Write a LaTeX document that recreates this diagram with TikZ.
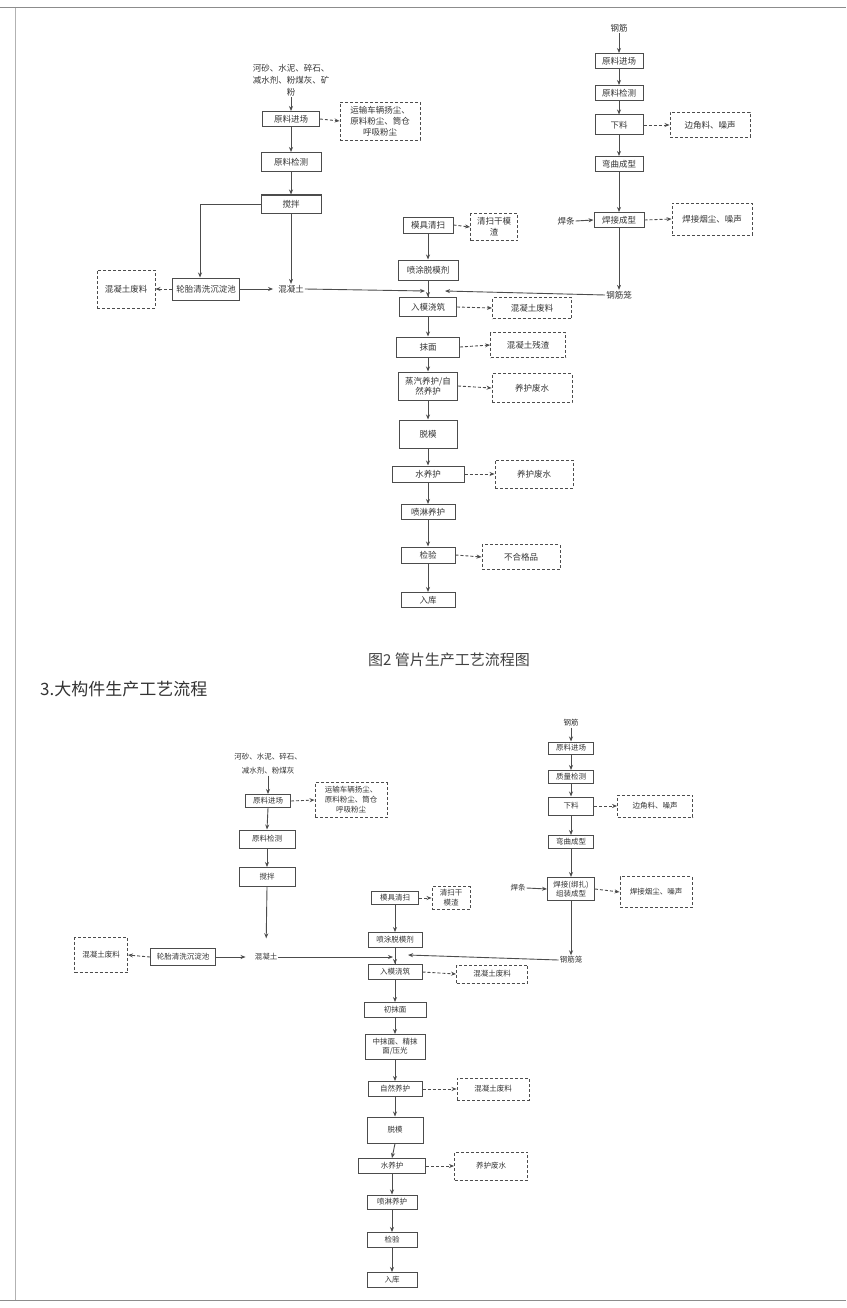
\documentclass[tikz,border=0pt]{standalone}
\usepackage{fontspec}
\setmainfont{Noto Sans CJK SC}
\usetikzlibrary{arrows.meta,calc}
\tikzset{
  ln/.style={draw=black!70, line width=0.9pt},
  arr/.style={ln, -{Stealth[length=5pt,width=4pt]}},
  darr/.style={ln, dashed, dash pattern=on 3pt off 2pt, -{Stealth[length=5pt,width=4pt]}},
  box/.style={draw=black!70, line width=1pt, inner sep=1pt, align=center, text=black!80, font=\fontsize{8.5pt}{10pt}\selectfont},
  sbox/.style={box, font=\fontsize{7.5pt}{9pt}\selectfont},
  dbox/.style={draw=black!70, line width=0.9pt, dashed, dash pattern=on 3pt off 2pt, inner sep=1pt, align=center, text=black!80, font=\fontsize{8.5pt}{11pt}\selectfont},
  sdbox/.style={dbox, font=\fontsize{7.5pt}{10pt}\selectfont},
  lbl/.style={inner sep=1pt, align=center, text=black!80, font=\fontsize{8.5pt}{12pt}\selectfont},
  slbl/.style={lbl, font=\fontsize{7.5pt}{14pt}\selectfont},
}
\begin{document}
\begin{tikzpicture}[x=1pt,y=-1pt]
\useasboundingbox (0,0) rectangle (846,1308);
% scan edges
\draw[black!45, line width=1pt] (0,8) -- (846,8);
\draw[black!30, line width=0.8pt] (15,8) -- (15,1300);
\draw[black!45, line width=1pt] (0,1300) -- (846,1300);

% ================= Figure 2 =================
\node[lbl] (in1) at (291,80) {河砂、水泥、碎石、\\减水剂、粉煤灰、矿\\粉};
\node[box, minimum width=57pt, minimum height=15pt] (a1) at (291,119) {原料进场};
\node[dbox, minimum width=80pt, minimum height=38pt] (a1d) at (380,121) {运输车辆扬尘、\\原料粉尘、筒仓\\呼吸粉尘};
\node[box, minimum width=60pt, minimum height=19pt] (a2) at (291,162) {原料检测};
\node[box, minimum width=60pt, minimum height=18pt] (a3) at (291,204) {搅拌};
\node[box, minimum width=67pt, minimum height=22pt] (cw) at (206,289) {轮胎清洗沉淀池};
\node[lbl] (c1) at (291,289) {混凝土};
\node[dbox, minimum width=58pt, minimum height=38pt] (w1) at (126,289) {混凝土废料};

\draw[arr] (in1.south) -- (a1.north);
\draw[darr] (a1.east) -- (a1d.west);
\draw[arr] (a1.south) -- (a2.north);
\draw[arr] (a2.south) -- (a3.north);
\draw[arr] (a3.west) -| ([xshift=-6pt]cw.north);
\draw[arr] (a3.south) -- (c1.north);
\draw[arr] (cw.east) -- ([xshift=-4pt]c1.west);
\draw[darr] (cw.west) -- (w1.east);

% middle chain
\node[box, minimum width=50pt, minimum height=16pt] (m1) at (428,225) {模具清扫};
\node[dbox, minimum width=47pt, minimum height=27pt] (m1d) at (494,227) {清扫干模\\渣};
\node[box, minimum width=60pt, minimum height=20pt] (m2) at (428,270) {喷涂脱模剂};
\coordinate (j1) at (428,291);
\node[box, minimum width=57pt, minimum height=19pt] (m3) at (428,307) {入模浇筑};
\node[dbox, minimum width=79pt, minimum height=21pt] (m3d) at (532,308) {混凝土废料};
\node[box, minimum width=63pt, minimum height=20pt] (m4) at (428,347) {抹面};
\node[dbox, minimum width=75pt, minimum height=25pt] (m4d) at (528,345) {混凝土残渣};
\node[box, minimum width=59pt, minimum height=28pt] (m5) at (428,386) {蒸汽养护/自\\然养护};
\node[dbox, minimum width=80pt, minimum height=29pt] (m5d) at (532,388) {养护废水};
\node[box, minimum width=58pt, minimum height=28pt] (m6) at (428,434) {脱模};
\node[box, minimum width=72pt, minimum height=16pt] (m7) at (428,474) {水养护};
\node[dbox, minimum width=78pt, minimum height=28pt] (m7d) at (534,474) {养护废水};
\node[box, minimum width=54pt, minimum height=15pt] (m8) at (428,512) {喷淋养护};
\node[box, minimum width=54pt, minimum height=16pt] (m9) at (428,555) {检验};
\node[dbox, minimum width=78pt, minimum height=25pt] (m9d) at (521,557) {不合格品};
\node[box, minimum width=54pt, minimum height=15pt] (m10) at (428,600) {入库};

\draw[darr] (m1.east) -- (m1d.west);
\draw[arr] (m1.south) -- (m2.north);
\draw[ln] (m2.south) -- (m3.north);
\draw[arr] (j1) -- (m3.north);
\draw[arr] (c1.east) -- ([xshift=-3pt]j1);
\draw[darr] (m3.east) -- (m3d.west);
\draw[arr] (m3.south) -- (m4.north);
\draw[darr] (m4.east) -- (m4d.west);
\draw[arr] (m4.south) -- (m5.north);
\draw[darr] (m5.east) -- (m5d.west);
\draw[arr] (m5.south) -- (m6.north);
\draw[arr] (m6.south) -- (m7.north);
\draw[darr] (m7.east) -- (m7d.west);
\draw[arr] (m7.south) -- (m8.north);
\draw[arr] (m8.south) -- (m9.north);
\draw[darr] (m9.east) -- (m9d.west);
\draw[arr] (m9.south) -- (m10.north);

% steel chain
\node[lbl] (s0) at (619,28) {钢筋};
\node[box, minimum width=48pt, minimum height=15pt] (s1) at (619,61) {原料进场};
\node[box, minimum width=48pt, minimum height=15pt] (s2) at (619,93) {原料检测};
\node[box, minimum width=48pt, minimum height=20pt] (s3) at (619,125) {下料};
\node[dbox, minimum width=80pt, minimum height=25pt] (s3d) at (710,125) {边角料、噪声};
\node[box, minimum width=48pt, minimum height=15pt] (s4) at (619,164) {弯曲成型};
\node[box, minimum width=50pt, minimum height=15pt] (s5) at (619,220) {焊接成型};
\node[lbl] (wr1) at (566,221) {焊条};
\node[dbox, minimum width=80pt, minimum height=32pt] (s5d) at (712,219) {焊接烟尘、噪声};
\node[lbl] (cg1) at (619,295) {钢筋笼};

\draw[arr] (s0.south) -- (s1.north);
\draw[arr] (s1.south) -- (s2.north);
\draw[arr] (s2.south) -- (s3.north);
\draw[darr] (s3.east) -- (s3d.west);
\draw[arr] (s3.south) -- (s4.north);
\draw[arr] (s4.south) -- (s5.north);
\draw[arr] (wr1.east) -- (s5.west);
\draw[darr] (s5.east) -- (s5d.west);
\draw[arr] (s5.south) -- (cg1.north);
\draw[arr] (cg1.west) -- ([xshift=17pt]j1);

% caption
\node[inner sep=0pt, text=black!75, font=\fontsize{15pt}{16pt}\selectfont] (cap) at (449,660) {图2\ 管片生产工艺流程图};
\node[inner sep=0pt, anchor=west, text=black!80, font=\fontsize{17pt}{18pt}\selectfont] (hd) at (40,689) {3.大构件生产工艺流程};

% ================= Figure 3 =================
\node[slbl] (in2) at (268,764) {河砂、水泥、碎石、\\减水剂、粉煤灰};
\node[sbox, minimum width=45pt, minimum height=13pt] (b1) at (268,801) {原料进场};
\node[sdbox, minimum width=72pt, minimum height=35pt] (b1d) at (351,800) {运输车辆扬尘、\\原料粉尘、筒仓\\呼吸粉尘};
\node[sbox, minimum width=56pt, minimum height=18pt] (b2) at (267,839) {原料检测};
\node[sbox, minimum width=56pt, minimum height=19pt] (b3) at (267,877) {搅拌};
\node[slbl] (c2) at (266,957) {混凝土};
\node[sbox, minimum width=65pt, minimum height=17pt] (cw2) at (183,957) {轮胎清洗沉淀池};
\node[sdbox, minimum width=53pt, minimum height=35pt] (w2) at (101,955) {混凝土废料};

\draw[arr] (in2.south) -- (b1.north);
\draw[darr] (b1.east) -- (b1d.west);
\draw[arr] (b1.south) -- (b2.north);
\draw[arr] (b2.south) -- (b3.north);
\draw[arr, shorten >=14pt] (b3.south) -- (c2.north);
\draw[arr] (cw2.east) -- ([xshift=-8pt]c2.west);
\draw[darr] (cw2.west) -- (w2.east);

\node[sbox, minimum width=47pt, minimum height=13pt] (n1) at (395,898) {模具清扫};
\node[sdbox, minimum width=38pt, minimum height=23pt] (n1d) at (451,898) {清扫干\\模渣};
\node[sbox, minimum width=54pt, minimum height=15pt] (n2) at (395,940) {喷涂脱模剂};
\coordinate (j2) at (395,957);
\node[sbox, minimum width=54pt, minimum height=15pt] (n3) at (395,972) {入模浇筑};
\node[sdbox, minimum width=71pt, minimum height=18pt] (n3d) at (492,974) {混凝土废料};
\node[sbox, minimum width=62pt, minimum height=15pt] (n4) at (395,1010) {初抹面};
\node[sbox, minimum width=60pt, minimum height=25pt] (n5) at (395,1047) {中抹面、精抹\\面/压光};
\node[sbox, minimum width=54pt, minimum height=15pt] (n6) at (395,1089) {自然养护};
\node[sdbox, minimum width=72pt, minimum height=22pt] (n6d) at (493,1089) {混凝土废料};
\node[sbox, minimum width=56pt, minimum height=26pt] (n7) at (395,1130) {脱模};
\node[sbox, minimum width=67pt, minimum height=15pt] (n8) at (392,1166) {水养护};
\node[sdbox, minimum width=73pt, minimum height=28pt] (n8d) at (491,1166) {养护废水};
\node[sbox, minimum width=50pt, minimum height=14pt] (n9) at (392,1202) {喷淋养护};
\node[sbox, minimum width=50pt, minimum height=15pt] (n10) at (392,1240) {检验};
\node[sbox, minimum width=50pt, minimum height=15pt] (n11) at (392,1280) {入库};

\draw[darr] (n1.east) -- (n1d.west);
\draw[arr] (n1.south) -- (n2.north);
\draw[ln] (n2.south) -- (n3.north);
\draw[arr] (j2) -- (n3.north);
\draw[arr] (c2.east) -- ([xshift=-2pt]j2);
\draw[darr] (n3.east) -- (n3d.west);
\draw[arr] (n3.south) -- (n4.north);
\draw[arr] (n4.south) -- (n5.north);
\draw[arr] (n5.south) -- (n6.north);
\draw[darr] (n6.east) -- (n6d.west);
\draw[arr] (n6.south) -- (n7.north);
\draw[arr] (n7.south) -- (n8.north);
\draw[darr] (n8.east) -- (n8d.west);
\draw[arr] (n8.south) -- (n9.north);
\draw[arr] (n9.south) -- (n10.north);
\draw[arr] (n10.south) -- (n11.north);

\node[slbl] (r0) at (571,723) {钢筋};
\node[sbox, minimum width=45pt, minimum height=12pt] (r1) at (571,748) {原料进场};
\node[sbox, minimum width=45pt, minimum height=13pt] (r2) at (571,777) {质量检测};
\node[sbox, minimum width=45pt, minimum height=18pt] (r3) at (571,806) {下料};
\node[sdbox, minimum width=75pt, minimum height=22pt] (r3d) at (655,806) {边角料、噪声};
\node[sbox, minimum width=45pt, minimum height=13pt] (r4) at (571,842) {弯曲成型};
\node[sbox, minimum width=47pt, minimum height=23pt] (r5) at (571,889) {焊接(绑扎)\\组装成型};
\node[slbl] (wr2) at (518,888) {焊条};
\node[sdbox, minimum width=72pt, minimum height=31pt] (r5d) at (656,892) {焊接烟尘、噪声};
\node[slbl] (cg2) at (571,960) {钢筋笼};

\draw[arr] (r0.south) -- (r1.north);
\draw[arr] (r1.south) -- (r2.north);
\draw[arr] (r2.south) -- (r3.north);
\draw[darr] (r3.east) -- (r3d.west);
\draw[arr] (r3.south) -- (r4.north);
\draw[arr] (r4.south) -- (r5.north);
\draw[arr] (wr2.east) -- (r5.west);
\draw[darr] (r5.east) -- (r5d.west);
\draw[arr] (r5.south) -- (cg2.north);
\draw[arr] (cg2.west) -- ([xshift=13pt,yshift=2pt]j2);
\end{tikzpicture}
\end{document}
